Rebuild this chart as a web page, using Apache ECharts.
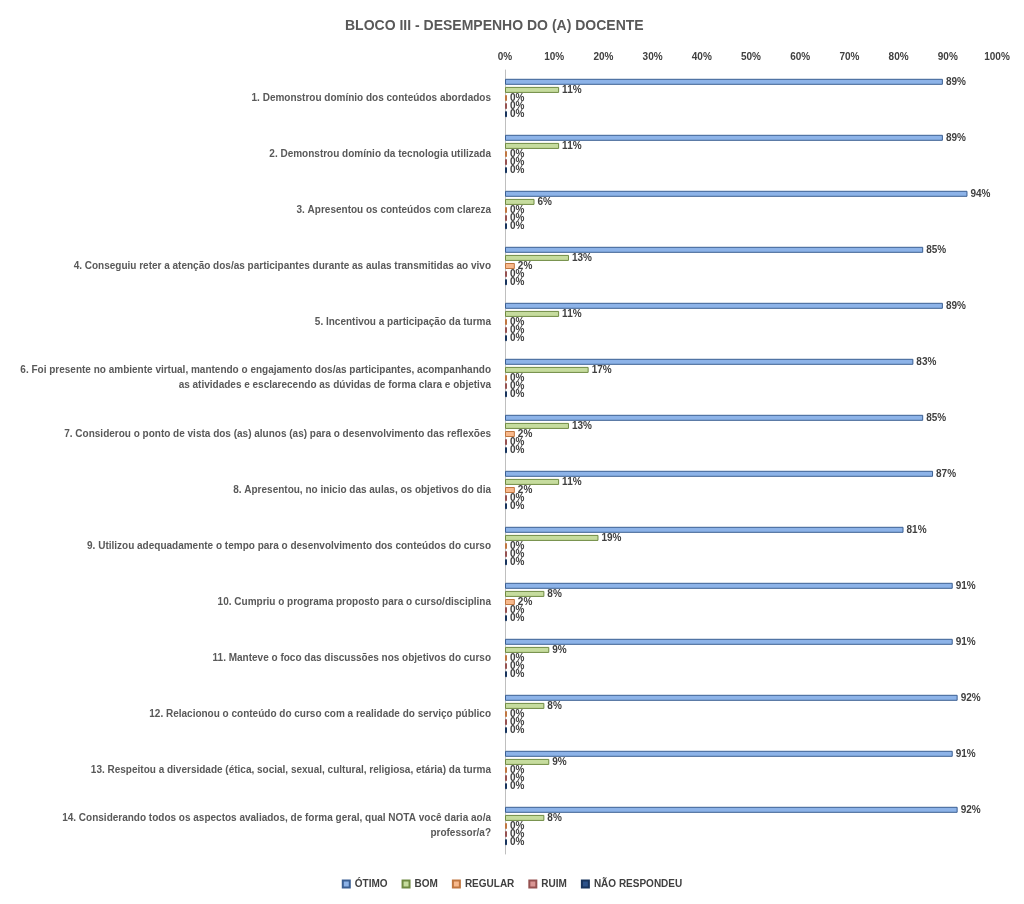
<!DOCTYPE html>
<html><head><meta charset="utf-8">
<script src="https://cdn.jsdelivr.net/npm/echarts@6/dist/echarts.min.js"></script>
<style>html,body{margin:0;padding:0;background:#fff}#c{width:1024px;height:904px}</style>
</head><body><div id="c"></div>
<script>
const categories = [
"1. Demonstrou domínio dos conteúdos abordados",
"2. Demonstrou domínio da tecnologia utilizada",
"3. Apresentou os conteúdos com clareza",
"4. Conseguiu reter a atenção dos/as participantes durante as aulas transmitidas ao vivo",
"5. Incentivou a participação da turma",
"6. Foi presente no ambiente virtual, mantendo o engajamento dos/as participantes, acompanhando\nas atividades e esclarecendo as dúvidas de forma clara e objetiva",
"7. Considerou o ponto de vista dos (as) alunos (as) para o desenvolvimento das reflexões",
"8. Apresentou, no inicio das aulas, os objetivos do dia",
"9. Utilizou adequadamente o tempo para o desenvolvimento dos conteúdos do curso",
"10. Cumpriu o programa proposto para o curso/disciplina",
"11. Manteve o foco das discussões nos objetivos do curso",
"12. Relacionou o conteúdo do curso com a realidade do serviço público",
"13. Respeitou a diversidade (ética, social, sexual, cultural, religiosa, etária) da turma",
"14. Considerando todos os aspectos avaliados, de forma geral, qual NOTA você daria ao/a\nprofessor/a?"
];
const otimo = [89,89,94,85,89,83,85,87,81,91,91,92,91,92];
const bom = [11,11,6,13,11,17,13,11,19,8,9,8,9,8];
const regular = [0,0,0,2,0,0,2,2,0,2,0,0,0,0];
const ruim = [0,0,0,0,0,0,0,0,0,0,0,0,0,0];
const naoResp = [0,0,0,0,0,0,0,0,0,0,0,0,0,0];
const seriesNames = ["ÓTIMO","BOM","REGULAR","RUIM","NÃO RESPONDEU"];
const colors = ["#8db3e8","#c6dc9e","#f8b98c","#da9694","#2c528a"];
const borders = ["#3b5f93","#6f8a42","#c07640","#955150","#17335c"];
const data = [otimo,bom,regular,ruim,naoResp];
const chart = echarts.init(document.getElementById('c'));
chart.setOption({
  animation:false,
  title:{text:"BLOCO III - DESEMPENHO DO (A) DOCENTE",left:340,top:14,textStyle:{fontFamily:"Liberation Sans",fontSize:14,fontWeight:"bold",color:"#595959"}},
  legend:{bottom:10,left:'center',itemWidth:7,itemHeight:7,itemGap:14,icon:'rect',
    textStyle:{fontFamily:"Liberation Sans",fontSize:10,fontWeight:"bold",color:"#404040"}},
  grid:{left:505,right:27,top:70,bottom:50},
  xAxis:{type:'value',position:'top',min:0,max:100,interval:10,
    axisLabel:{formatter:'{value}%',fontFamily:"Liberation Sans",fontSize:10,fontWeight:"bold",color:"#404040"},
    splitLine:{show:false},axisLine:{show:false},axisTick:{show:false}},
  yAxis:{type:'category',inverse:true,data:categories,
    axisLine:{show:true,lineStyle:{color:'#bfbfbf'}},axisTick:{show:false},
    axisLabel:{fontFamily:"Liberation Sans",fontSize:10,fontWeight:"bold",color:"#595959",lineHeight:15,margin:14}},
  series:data.map((d,i)=>({name:seriesNames[i],type:'bar',data:d,barWidth:6,barGap:'35%',barMinHeight:2,
    itemStyle:{color:colors[i],borderColor:borders[i],borderWidth:1},
    label:{show:true,position:'right',distance:3,formatter:'{c}%',fontFamily:"Liberation Sans",fontSize:10,fontWeight:'bold',color:'#404040'}}))
});
</script></body></html>
